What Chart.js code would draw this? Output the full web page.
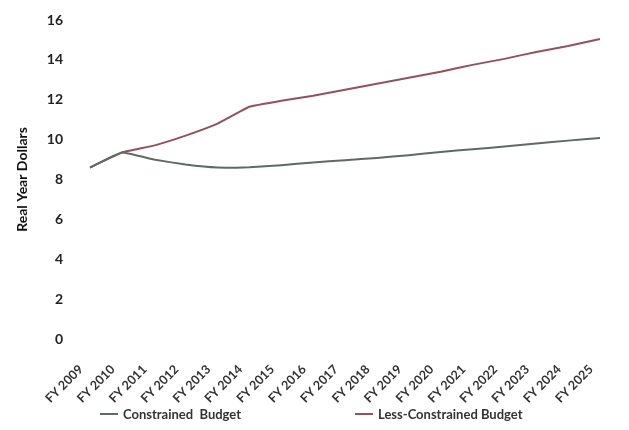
<!DOCTYPE html>
<html>
<head>
<meta charset="utf-8">
<script src="https://cdn.jsdelivr.net/npm/chart.js@4"></script>
<style>
  body { margin: 0; background: #fff; }
  #wrap { position: relative; width: 629px; height: 430px; }
  #legend { position: absolute; top: 406px; left: 0; width: 629px; height: 20px;
    font-family: Lato, sans-serif; font-weight: bold; font-size: 13px; color: #333; }
  .item { position: absolute; top: 0; display: flex; align-items: center; white-space: pre; }
  .mark { display: inline-block; width: 18px; height: 2px; margin-right: 5px; }
</style>
</head>
<body>
<div id="wrap">
  <canvas id="chart" width="629" height="430"></canvas>
  <div id="legend"></div>
</div>
<script>
// categories
var years = ['FY 2009','FY 2010','FY 2011','FY 2012','FY 2013','FY 2014','FY 2015','FY 2016','FY 2017',
  'FY 2018','FY 2019','FY 2020','FY 2021','FY 2022','FY 2023','FY 2024','FY 2025'];
// series values
var constrained = [8.6, 9.35, 9.0, 8.75, 8.6, 8.62, 8.72, 8.85, 8.97, 9.08, 9.22, 9.38, 9.52, 9.65, 9.8, 9.95, 10.08];
var lessConstrained = [8.6, 9.35, 9.7, 10.2, 10.8, 11.65, 11.95, 12.2, 12.5, 12.8, 13.1, 13.4, 13.75, 14.05, 14.4, 14.7, 15.05];
var seriesNames = ['Constrained  Budget', 'Less-Constrained Budget'];

var colors = ['#5d6b62', '#94505c'];

var ctx = document.getElementById('chart').getContext('2d');
var chart = new Chart(ctx, {
  type: 'line',
  data: {
    labels: years,
    datasets: [
      { label: seriesNames[0], data: constrained, borderColor: colors[0], borderWidth: 2, pointRadius: 0, tension: 0.1, fill: false },
      { label: seriesNames[1], data: lessConstrained, borderColor: colors[1], borderWidth: 2, pointRadius: 0, tension: 0.1, fill: false }
    ]
  },
  options: {
    responsive: false,
    animation: false,
    layout: { padding: { top: 20, right: 29, left: 14, bottom: 0 } },
    plugins: {
      legend: { display: false },
      tooltip: { enabled: false }
    },
    scales: {
      x: {
        offset: false,
        grid: { display: false },
        border: { display: false },
        ticks: {
          minRotation: 45, maxRotation: 45, padding: 15, labelOffset: -9,
          color: '#333', font: { family: 'Lato', size: 12.5, weight: 'bold' }
        },
        afterFit: function(s) { s.height = 91; s.paddingTop = 0; s.paddingBottom = 0; }
      },
      y: {
        min: 0, max: 16,
        grid: { display: false },
        border: { display: false },
        ticks: {
          stepSize: 2, padding: 19,
          color: '#222', font: { family: 'Lato', size: 14, weight: 'bold' }
        },
        title: {
          display: true, text: 'Real Year Dollars', padding: 0,
          color: '#111', font: { family: 'Lato', size: 14, weight: 'bold' }
        },
        afterFit: function(s) { s.width = 76; s.paddingTop = 0; s.paddingBottom = 0; }
      }
    }
  }
});

// legend below the plot
var legendPos = [100, 355];
var lg = document.getElementById('legend');
seriesNames.forEach(function(name, i) {
  var it = document.createElement('div');
  it.className = 'item';
  it.style.left = legendPos[i] + 'px';
  var m = document.createElement('span');
  m.className = 'mark';
  m.style.background = colors[i];
  it.appendChild(m);
  it.appendChild(document.createTextNode(name));
  lg.appendChild(it);
});
</script>
</body>
</html>
